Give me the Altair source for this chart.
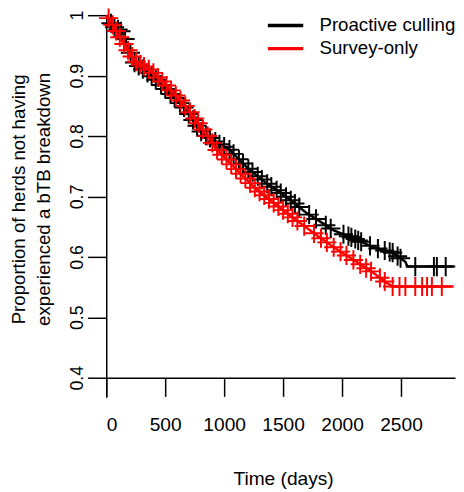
import altair as alt
import pandas as pd
import numpy as np

groups = ["Proactive culling", "Survey-only"]
colors = ["#000000", "#FF0000"]

# Kaplan-Meier curve points (days, proportion)
pc_days = [0, 54, 137, 237, 404, 654, 821, 887, 971, 1037, 1204, 1371, 1537, 1704, 1762, 1929, 2096, 2262, 2429, 2537, 2554, 2946]
pc_surv = [1.0, 0.982, 0.972, 0.922, 0.896, 0.849, 0.803, 0.796, 0.785, 0.779, 0.746, 0.720, 0.698, 0.672, 0.665, 0.644, 0.631, 0.616, 0.607, 0.592, 0.584, 0.584]
so_days = [0, 29, 137, 246, 387, 529, 662, 804, 887, 929, 1096, 1262, 1429, 1596, 1762, 1929, 2096, 2262, 2371, 2429, 2946]
so_surv = [1.0, 0.993, 0.956, 0.924, 0.907, 0.880, 0.852, 0.815, 0.793, 0.779, 0.746, 0.714, 0.688, 0.663, 0.639, 0.616, 0.595, 0.574, 0.558, 0.551, 0.551]

# censoring times (days)
pc_cens = [40, 70, 100, 125, 160, 205, 240, 275, 310, 350, 385, 420, 465, 500, 545, 580, 625, 660, 700, 735, 770, 805, 845, 880, 925, 960,
           1000, 1045, 1080, 1125, 1160, 1205, 1240, 1285, 1320, 1365, 1400, 1445, 1480, 1525, 1565, 1600,
           1637, 1721, 1779, 1862, 1904, 2012, 2054, 2079, 2112, 2137, 2162, 2237, 2304, 2362, 2404, 2429, 2471, 2496,
           2621, 2779, 2804, 2879]
so_cens = [20, 55, 85, 115, 150, 185, 220, 255, 290, 320, 360, 400, 440, 475, 510, 550, 590, 630, 670, 710, 750, 780, 820, 860, 900, 940,
           980, 1020, 1060, 1100, 1140, 1180, 1220, 1260, 1300, 1340, 1380, 1420, 1460, 1500, 1540, 1580,
           1621, 1679, 1762, 1821, 1871, 1929, 1987, 2037, 2096, 2154, 2204, 2246, 2321, 2362,
           2429, 2487, 2537, 2621, 2679, 2721, 2762, 2846]

x_ticks = [0, 500, 1000, 1500, 2000, 2500]
y_ticks = [0.4, 0.5, 0.6, 0.7, 0.8, 0.9, 1.0]

curve = pd.DataFrame({
    "days": pc_days + so_days,
    "surv": pc_surv + so_surv,
    "group": [groups[0]] * len(pc_days) + [groups[1]] * len(so_days),
})
cens = pd.DataFrame({
    "days": pc_cens + so_cens,
    "surv": list(np.interp(pc_cens, pc_days, pc_surv)) + list(np.interp(so_cens, so_days, so_surv)),
    "group": [groups[0]] * len(pc_cens) + [groups[1]] * len(so_cens),
})

xs = alt.Scale(domain=[0, 2958], nice=False, zero=False)
ys = alt.Scale(domain=[0.3675, 1.0], nice=False, zero=False)

x_axis = alt.Axis(values=x_ticks, format="d", title="Time (days)", grid=False, offset=-20, tickSize=19,
                  labelPadding=20, labelFontSize=19.5, titleFontSize=19.5, titleFontWeight="normal",
                  domainColor="black", tickColor="black", labelColor="black", titleColor="black",
                  domainWidth=1.5, tickWidth=1.5, titleBaseline="alphabetic", titleY=109, titleX=180)
y_axis = alt.Axis(values=y_ticks, format=".1~f",
                  title=["Proportion of herds not having", "experienced a bTB breakdown"],
                  grid=False, tickSize=19, labelPadding=1, labelFontSize=18, labelAngle=270,
                  labelAlign="center", labelBaseline="bottom", titleFontSize=19, titleFontWeight="normal",
                  titleAngle=270, titleAlign="center", titleBaseline="middle", titleX=-89, titleY=187,
                  titleLineHeight=25, domainColor="black", tickColor="black", labelColor="black",
                  titleColor="black", domainWidth=1.5, tickWidth=1.5)

color = alt.Color("group:N", scale=alt.Scale(domain=groups, range=colors),
                  legend=alt.Legend(title=None, orient="none", legendX=173, legendY=1,
                                    symbolType="M-3,0H3", symbolSize=144, symbolStrokeWidth=3.5,
                                    labelFontSize=19, labelOffset=25, rowPadding=3.5, labelColor="black"))

plus = "M0,-1V1M-1,0H1"

layers = []
for g, c in zip(groups, colors):
    line = alt.Chart(curve).transform_filter(alt.datum.group == g).mark_line(strokeWidth=2.5).encode(
        x=alt.X("days:Q", scale=xs, axis=x_axis),
        y=alt.Y("surv:Q", scale=ys, axis=y_axis),
        color=color,
    )
    pts = alt.Chart(cens).transform_filter(alt.datum.group == g).mark_point(
        shape=plus, filled=False, size=380, strokeWidth=2, opacity=1).encode(
        x=alt.X("days:Q", scale=xs),
        y=alt.Y("surv:Q", scale=ys),
        color=alt.value(c),
    )
    layers += [line, pts]

chart = alt.layer(*layers).properties(
    width=355, height=389,
    autosize=alt.AutoSizeParams(type="none"),
    padding={"left": 100, "top": 3, "right": 1, "bottom": 92},
).configure(font="Liberation Sans").configure_view(stroke=None)

chart.save("out.html", embed_options={"renderer": "svg", "actions": False})
